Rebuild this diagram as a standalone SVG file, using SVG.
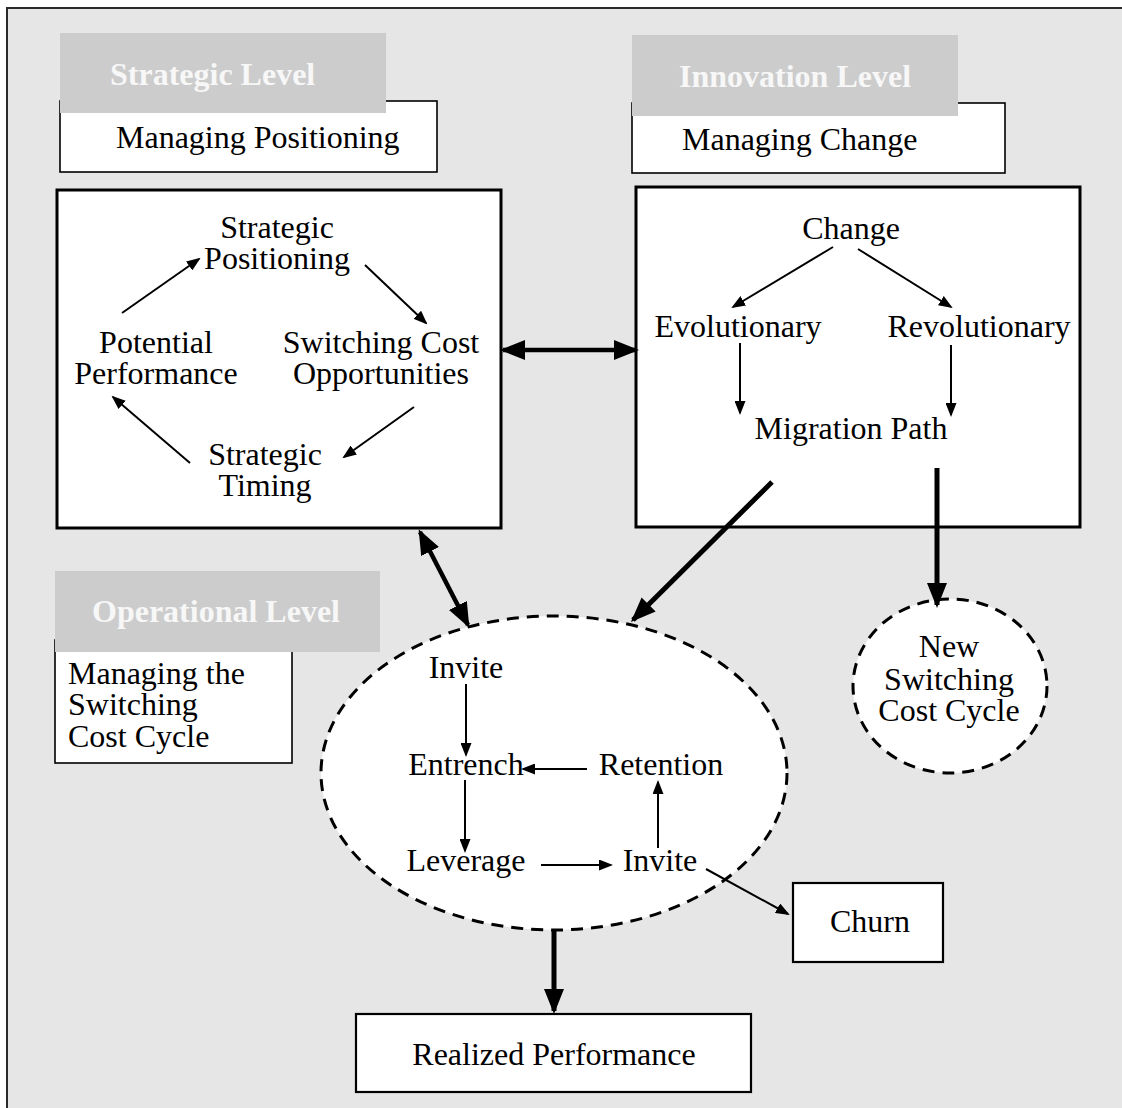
<svg xmlns="http://www.w3.org/2000/svg" width="1122" height="1108" viewBox="0 0 1122 1108">
  <defs>
    <style>
      text { font-family: "Liberation Serif", "Times New Roman", serif; font-size: 32px; fill: #000; }
      .c { text-anchor: middle; }
      .lvl { font-weight: bold; font-size: 32px; fill: #f7f7f7; }
      .tag { fill: #cccccc; stroke: none; }
      .sub { fill: #fff; stroke: #000; stroke-width: 1.6; }
      .main { fill: #fff; stroke: #000; stroke-width: 3; }
      .out { fill: #fff; stroke: #000; stroke-width: 2.2; }
      .cyc { fill: #fff; stroke: #000; stroke-width: 3; stroke-dasharray: 12 8; }
      .thin { stroke: #000; stroke-width: 2; fill: none; marker-end: url(#tipS); }
      .thick { stroke: #000; stroke-width: 5; fill: none; marker-end: url(#tipL); }
      .both { stroke: #000; stroke-width: 4.5; fill: none; marker-start: url(#tipL); marker-end: url(#tipL); }
    </style>
    <marker id="tipS" viewBox="0 0 14 11" refX="12" refY="5.5" markerWidth="14" markerHeight="11" markerUnits="userSpaceOnUse" orient="auto-start-reverse">
      <path d="M0,0 L14,5.5 L0,11 Z" fill="#000"/>
    </marker>
    <marker id="tipL" viewBox="0 0 25 20" refX="22" refY="10" markerWidth="25" markerHeight="20" markerUnits="userSpaceOnUse" orient="auto-start-reverse">
      <path d="M0,0 L25,10 L0,20 Z" fill="#000"/>
    </marker>
  </defs>

  <!-- page and frame -->
  <rect x="0" y="0" width="1122" height="1108" fill="#fff"/>
  <rect x="7" y="8" width="1130" height="1120" fill="#e6e6e6" stroke="#2a2a2a" stroke-width="2"/>

  <!-- strategic level -->
  <g id="strategic-label">
    <rect class="sub" x="60" y="101" width="377" height="71"/>
    <rect class="tag" x="60" y="33" width="326" height="80"/>
    <text class="lvl" x="110" y="85">Strategic Level</text>
    <text x="116" y="148">Managing Positioning</text>
  </g>

  <g id="strategic-box">
    <rect class="main" x="57" y="190" width="444" height="338"/>
    <text class="c" x="277" y="238">Strategic</text>
    <text class="c" x="277" y="269">Positioning</text>
    <text class="c" x="156" y="353">Potential</text>
    <text class="c" x="156" y="384">Performance</text>
    <text class="c" x="381" y="353">Switching Cost</text>
    <text class="c" x="381" y="384">Opportunities</text>
    <text class="c" x="265" y="465">Strategic</text>
    <text class="c" x="265" y="496">Timing</text>
  </g>

  <!-- innovation level -->
  <g id="innovation-label">
    <rect class="sub" x="632" y="103" width="373" height="70"/>
    <rect class="tag" x="632" y="35" width="326" height="81"/>
    <text class="lvl" x="679" y="87">Innovation Level</text>
    <text x="682" y="150">Managing Change</text>
  </g>

  <g id="innovation-box">
    <rect class="main" x="636" y="187" width="444" height="340"/>
    <text class="c" x="851" y="239">Change</text>
    <text class="c" x="738" y="337">Evolutionary</text>
    <text class="c" x="979" y="337">Revolutionary</text>
    <text class="c" x="851" y="439">Migration Path</text>
  </g>

  <!-- operational level -->
  <g id="operational-label">
    <rect class="sub" x="55" y="640" width="237" height="123"/>
    <rect class="tag" x="55" y="571" width="325" height="81"/>
    <text class="lvl" x="92" y="622">Operational Level</text>
    <text x="68" y="684">Managing the</text>
    <text x="68" y="715">Switching</text>
    <text x="68" y="747">Cost Cycle</text>
  </g>

  <g id="switching-cycle">
    <ellipse class="cyc" cx="554" cy="773" rx="233" ry="157"/>
    <text class="c" x="466" y="678">Invite</text>
    <text class="c" x="466" y="775">Entrench</text>
    <text class="c" x="661" y="775">Retention</text>
    <text class="c" x="466" y="871">Leverage</text>
    <text class="c" x="660" y="871">Invite</text>
  </g>

  <g id="new-cycle">
    <ellipse class="cyc" cx="950" cy="686" rx="97" ry="87"/>
    <text class="c" x="949" y="657">New</text>
    <text class="c" x="949" y="690">Switching</text>
    <text class="c" x="949" y="721">Cost Cycle</text>
  </g>

  <g id="churn">
    <rect class="out" x="793" y="883" width="150" height="79"/>
    <text class="c" x="870" y="932">Churn</text>
  </g>

  <g id="realized-performance">
    <rect class="out" x="356" y="1014" width="395" height="78"/>
    <text class="c" x="554" y="1065">Realized Performance</text>
  </g>

  <!-- connectors -->
  <g id="connectors">
    <line class="thin" x1="122" y1="313" x2="199" y2="259"/>
    <line class="thin" x1="365" y1="265" x2="426" y2="323"/>
    <line class="thin" x1="414" y1="407" x2="344" y2="457"/>
    <line class="thin" x1="190" y1="463" x2="113" y2="397"/>

    <line class="thin" x1="833" y1="247" x2="733" y2="307"/>
    <line class="thin" x1="858" y1="249" x2="951" y2="307"/>
    <line class="thin" x1="740" y1="343" x2="740" y2="413"/>
    <line class="thin" x1="951" y1="345" x2="951" y2="415"/>

    <line class="thin" x1="466" y1="684" x2="466" y2="755"/>
    <line class="thin" x1="587" y1="769" x2="523" y2="769"/>
    <line class="thin" x1="465" y1="780" x2="465" y2="851"/>
    <line class="thin" x1="541" y1="865" x2="611" y2="865"/>
    <line class="thin" x1="658" y1="848" x2="658" y2="782"/>
    <line class="thin" x1="706" y1="869" x2="788" y2="914"/>

    <line class="both" x1="503" y1="350" x2="636" y2="350"/>
    <line class="both" x1="420" y1="532" x2="468" y2="625"/>
    <line class="thick" x1="772" y1="482" x2="633" y2="620"/>
    <line class="thick" x1="937" y1="468" x2="937" y2="605"/>
    <line class="thick" x1="554" y1="930" x2="554" y2="1011"/>
  </g>
</svg>
